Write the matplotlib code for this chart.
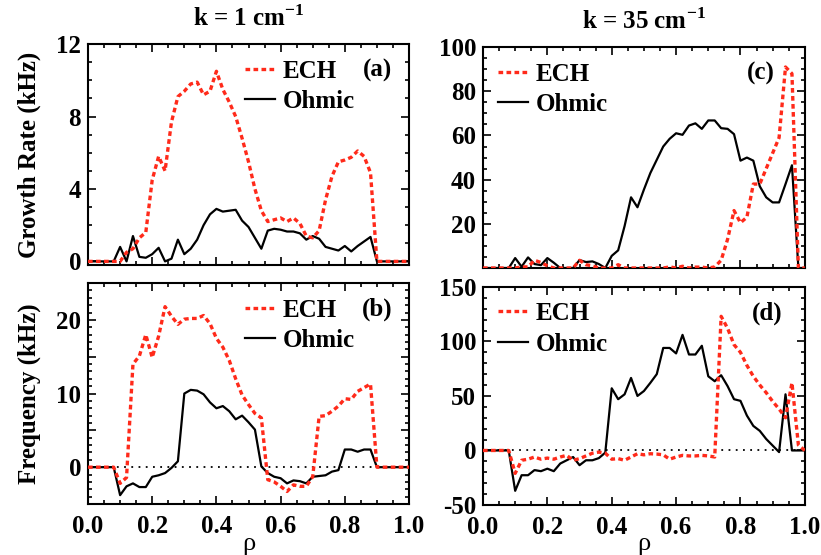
import numpy as np
import matplotlib
matplotlib.use("Agg")
import matplotlib.pyplot as plt
from matplotlib.ticker import MultipleLocator, FuncFormatter
from matplotlib.lines import Line2D

# radial grid (rho) shared by every profile
rho = [0.00, 0.02, 0.04, 0.06, 0.08, 0.10, 0.12, 0.14, 0.16, 0.18,
       0.20, 0.22, 0.24, 0.26, 0.28, 0.30, 0.32, 0.34, 0.36, 0.38,
       0.40, 0.42, 0.44, 0.46, 0.48, 0.50, 0.52, 0.54, 0.56, 0.58,
       0.60, 0.62, 0.64, 0.66, 0.68, 0.70, 0.72, 0.74, 0.76, 0.78,
       0.80, 0.82, 0.84, 0.86, 0.88, 0.90, 0.92, 0.94, 0.96, 0.98, 1.00]

# (a) growth rate, k = 1 cm^-1
ech_growth_k1 = [0, 0, 0, 0, 0, 0, 0.5, 0.7, 1.3, 1.6,
                 4.5, 5.8, 5.0, 7.7, 9.1, 9.4, 9.8, 9.9, 9.2, 9.4,
                 10.5, 9.5, 8.8, 8.0, 6.8, 5.5, 4.0, 2.8, 2.2, 2.3,
                 2.4, 2.2, 2.4, 2.1, 1.4, 1.3, 1.7, 3.4, 4.7, 5.5,
                 5.6, 5.75, 6.1, 5.8, 4.9, 0, 0, 0, 0, 0, 0]
ohm_growth_k1 = [0, 0, 0, 0, 0, 0.8, 0, 1.4, 0.25, 0.2,
                 0.4, 0.75, 0, 0.15, 1.2, 0.4, 0.7, 1.2, 2.0, 2.6,
                 2.9, 2.75, 2.8, 2.85, 2.25, 1.9, 1.3, 0.7, 1.7, 1.8,
                 1.75, 1.65, 1.65, 1.55, 1.2, 1.4, 1.25, 0.8, 0.7, 0.6,
                 0.85, 0.55, 0.85, 1.1, 1.35, 0, 0, 0, 0, 0, 0]

# (b) frequency, k = 1 cm^-1
ech_freq_k1 = [0, 0, 0, 0, 0, -2.2, -1.4, 14.0, 15.1, 18.0,
               14.9, 17.8, 21.8, 20.5, 19.4, 20.1, 20.2, 20.2, 20.6, 19.5,
               17.5, 16.3, 14.5, 12.0, 9.8, 8.5, 7.3, 6.7, -1.7, -2.0,
               -2.6, -3.3, -2.4, -2.6, -2.6, -1.3, 6.9, 7.0, 7.6, 8.3,
               9.3, 9.2, 10.3, 10.8, 11.3, 0, 0, 0, 0, 0, 0]
ohm_freq_k1 = [0, 0, 0, 0, 0, -3.8, -2.6, -2.2, -2.7, -2.7,
               -1.3, -1.1, -0.8, -0.1, 0.8, 10.0, 10.5, 10.4, 9.9, 8.8,
               8.0, 8.3, 7.6, 6.5, 7.0, 6.1, 5.1, 0.1, -0.8, -1.3,
               -1.5, -2.2, -1.8, -1.9, -2.2, -1.3, -1.2, -1.1, -0.6, -0.4,
               2.4, 2.4, 2.1, 2.4, 2.4, 0, 0, 0, 0, 0, 0]

# (c) growth rate, k = 35 cm^-1
ech_growth_k35 = [0, 0, 0, 0, 0, 0, 0.5, 0.5, 3.5, 2.5,
                  1.0, 0, 0, 0, 0, 3.5, 1.5, 1.0, 0, 0,
                  0, 1.5, 0, 0, 0, 0, 0, 0, 0, 0.5,
                  0, 0.8, 0, 0.4, 0.4, 0, 0.5, 3.5, 13, 26,
                  20.5, 23, 38, 38, 45, 52, 59, 91, 88, 0, 0]
ohm_growth_k35 = [0, 0, 0, 0, 0, 4.5, 0.6, 4.8, 1.8, 1.3,
                  4.5, 2.4, 0, 0, 0, 3.6, 2.7, 3.0, 1.8, 0,
                  5.5, 8.0, 19, 32, 27.5, 35.5, 43, 49, 55, 58.5,
                  61, 60.3, 64.5, 65.5, 63, 66.8, 66.8, 63.3, 63, 60.6,
                  48.6, 50, 48.6, 37, 32, 29.7, 29.7, 38, 46.5, 0, 0]

# (d) frequency, k = 35 cm^-1
ech_freq_k35 = [0, 0, 0, 0, 0, -21, -9, -8, -6, -8,
                -7, -8, -6, -4.5, -9, -7.5, -5, -2.5, -1.5, -2.5,
                -8, -7.5, -9, -6, -3, -4, -3, -3.3, -4, -8,
                -6, -4.5, -5, -5, -4.5, -5, -6, 123, 112, 97,
                90, 78, 68, 60, 53, 45, 38, 30, 62, 5, 0]
ohm_freq_k35 = [0, 0, 0, 0, 0, -37, -22.7, -22.7, -18, -19,
                -16.7, -19, -12, -9, -6, -13.5, -9, -9, -7, -2,
                57, 47, 51.5, 66.5, 50, 54.5, 62, 70, 94, 94,
                89, 106, 88, 88, 96, 68, 63.5, 69, 59, 47,
                45.5, 32, 22.5, 18, 10.5, 4.5, -1.5, 51.5, 0, 0, 0]

plt.rcParams["font.family"] = ["Liberation Serif", "DejaVu Serif"]
plt.rcParams["font.weight"] = "bold"
plt.rcParams["font.size"] = 18
plt.rcParams["axes.linewidth"] = 1.5
plt.rcParams["mathtext.fontset"] = "custom"
plt.rcParams["mathtext.rm"] = "Liberation Serif:bold"
plt.rcParams["mathtext.bf"] = "Liberation Serif:bold"

ech_color = "#ff2a1a"
ech_style = dict(color=ech_color, lw=2.4, ls=(0, (1.4, 1.0)))
ohm_style = dict(color="black", lw=1.6, ls="-")

fig = plt.figure(figsize=(8.21, 5.55), dpi=100)
ax_a = fig.add_axes([0.1072, 0.5225, 0.391, 0.398])
ax_b = fig.add_axes([0.1072, 0.0919, 0.391, 0.398])
ax_c = fig.add_axes([0.5883, 0.5171, 0.392, 0.398])
ax_d = fig.add_axes([0.5883, 0.0901, 0.392, 0.393])


def style_axes(ax, ylim, major, minor, labelled, hide_zero=False):
    ax.set_xlim(0, 1)
    ax.set_ylim(*ylim)
    ax.xaxis.set_major_locator(MultipleLocator(0.2))
    ax.xaxis.set_minor_locator(MultipleLocator(0.05))
    ax.yaxis.set_major_locator(MultipleLocator(major))
    ax.yaxis.set_minor_locator(MultipleLocator(minor))

    def fmt(v, pos):
        if abs(v / labelled - round(v / labelled)) > 1e-6:
            return ""
        if hide_zero and abs(v) < 1e-9:
            return ""
        return "%d" % round(v)
    ax.yaxis.set_major_formatter(FuncFormatter(fmt))
    ax.tick_params(which="both", direction="in", top=True, right=True, width=1.2)
    ax.tick_params(which="major", length=6)
    ax.tick_params(which="minor", length=3)
    ax.tick_params(axis="y", pad=5)
    ax.tick_params(axis="x", pad=8)


def add_legend(ax, x, tag, tag_x):
    handles = [Line2D([], [], **ech_style), Line2D([], [], **ohm_style)]
    ax.legend(handles, ["ECH", "Ohmic"], loc="upper left", bbox_to_anchor=(x, 0.93),
              frameon=False, handlelength=1.2, handletextpad=0.3, labelspacing=0.3,
              borderpad=0, borderaxespad=0,
              prop=dict(family="Liberation Serif", weight="bold", size=18))
    ax.text(tag_x, 0.88, tag, transform=ax.transAxes, ha="right", va="center",
            fontsize=18, fontweight="bold")


panels = [
    (ax_a, ech_growth_k1, ohm_growth_k1),
    (ax_b, ech_freq_k1, ohm_freq_k1),
    (ax_c, ech_growth_k35, ohm_growth_k35),
    (ax_d, ech_freq_k35, ohm_freq_k35),
]
for ax, ech, ohm in panels:
    ax.plot(rho, ohm, **ohm_style, zorder=3)
    ax.plot(rho, ech, **ech_style, zorder=4)

for ax in (ax_b, ax_d):
    ax.axhline(0, color="black", lw=1.3, ls=(0, (1, 3)), zorder=2)

style_axes(ax_a, (-0.2, 12), 4, 1, 4)
style_axes(ax_b, (-5, 25), 5, 1, 10)
style_axes(ax_c, (0, 100), 20, 5, 20, hide_zero=True)
style_axes(ax_d, (-50, 150), 50, 10, 50)

for ax in (ax_a, ax_c):
    ax.set_xticklabels([])

add_legend(ax_a, 0.49, "(a)", 0.947)
add_legend(ax_b, 0.49, "(b)", 0.948)
add_legend(ax_c, 0.047, "(c)", 0.907)
add_legend(ax_d, 0.047, "(d)", 0.93)

ax_a.set_title(r"k = 1 cm$^{-1}$", fontsize=18, fontweight="bold", pad=13)
ax_c.set_title(r"k = 35 cm$^{-1}$", fontsize=18, fontweight="bold", pad=13)

ax_a.set_ylabel("Growth Rate (kHz)", fontsize=18, fontweight="bold")
ax_b.set_ylabel("Frequency (kHz)", fontsize=18, fontweight="bold")
ax_a.yaxis.set_label_coords(-0.146, 0.5)
ax_b.yaxis.set_label_coords(-0.146, 0.5)

for ax in (ax_b, ax_d):
    ax.set_xlabel("ρ", fontsize=19, fontweight="normal")
    ax.xaxis.set_label_coords(0.5, -0.13)

fig.savefig("out.png", dpi=100)
